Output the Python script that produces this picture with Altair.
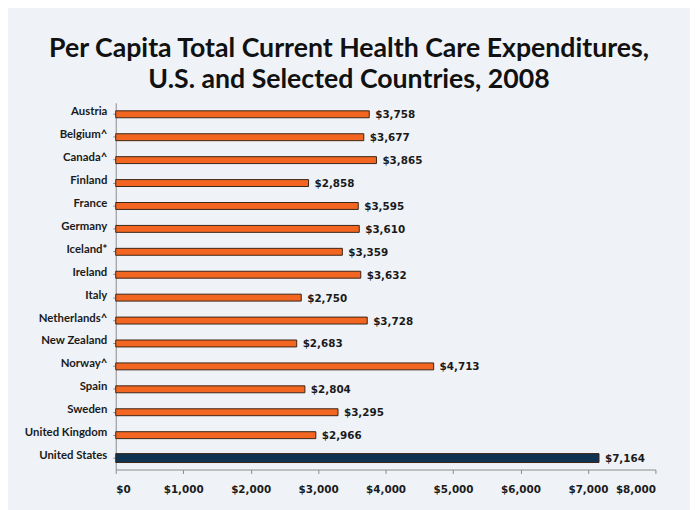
import altair as alt
import pandas as pd

countries = ["Austria", "Belgium^", "Canada^", "Finland", "France", "Germany",
             "Iceland*", "Ireland", "Italy", "Netherlands^", "New Zealand",
             "Norway^", "Spain", "Sweden", "United Kingdom", "United States"]
values = [3758, 3677, 3865, 2858, 3595, 3610, 3359, 3632, 2750, 3728, 2683,
          4713, 2804, 3295, 2966, 7164]
groups = ["Other"] * 15 + ["US"]
x_ticks = [0, 1000, 2000, 3000, 4000, 5000, 6000, 7000, 8000]

df = pd.DataFrame({"country": countries, "value": values, "group": groups})
df["label"] = df["value"].map(lambda v: "${:,}".format(v))

FONT = "Lato, sans-serif"
NFONT = "DejaVu Sans, sans-serif"
TFONT = "Lato, sans-serif"
BG = "#eff3f7"

y_enc = alt.Y("country:N", sort=countries, title=None,
              scale=alt.Scale(paddingInner=0, paddingOuter=0),
              axis=alt.Axis(labelFont=FONT, labelFontSize=11.5, labelFontWeight="bold",
                            labelColor="#1a1a1a", domainColor="#8a8a8a", tickColor="#8a8a8a",
                            tickSize=3, labelPadding=6, labelOffset=-2, ticks=True,
                            domainWidth=1))
x_enc = alt.X("value:Q", title=None,
              scale=alt.Scale(domain=[0, 8000], nice=False),
              axis=alt.Axis(values=x_ticks, format="$,d", labelFont=NFONT, labelFontSize=10.5,
                            labelFontWeight="bold", labelColor="#1a1a1a", grid=False,
                            domainColor="#8a8a8a", tickColor="#8a8a8a", tickSize=4,
                            labelPadding=11))

bars = alt.Chart(df).mark_bar(stroke="#3b2414", strokeWidth=1).encode(
    y=y_enc,
    x=x_enc,
    color=alt.Color("group:N", scale=alt.Scale(domain=["Other", "US"],
                                               range=["#f26622", "#0f3350"]), legend=None),
    size=alt.Size("group:N", scale=alt.Scale(domain=["Other", "US"], range=[7, 9]), legend=None),
)

labels = alt.Chart(df).mark_text(align="left", baseline="middle", dx=6, dy=1, font=NFONT,
                                 fontSize=10.5, fontWeight="bold", color="#1a1a1a").encode(
    y=alt.Y("country:N", sort=countries),
    x="value:Q",
    text="label:N",
)

chart = alt.layer(bars, labels).properties(
    width=546, height=371,
    padding={"left": 109, "top": 93, "right": 35, "bottom": 38},
    autosize=alt.AutoSizeParams(type="none"),
    background=BG,
    title=alt.Title(["Per Capita Total Current Health Care Expenditures,",
                     "U.S. and Selected Countries, 2008"],
                    font=TFONT, fontSize=27, fontWeight="bold", color="#111111",
                    anchor="middle", frame="group", dx=-37, offset=9, lineHeight=31),
).configure_view(stroke=None, fill=BG)

chart.save("out.html", embed_options={"renderer": "svg", "actions": False})
